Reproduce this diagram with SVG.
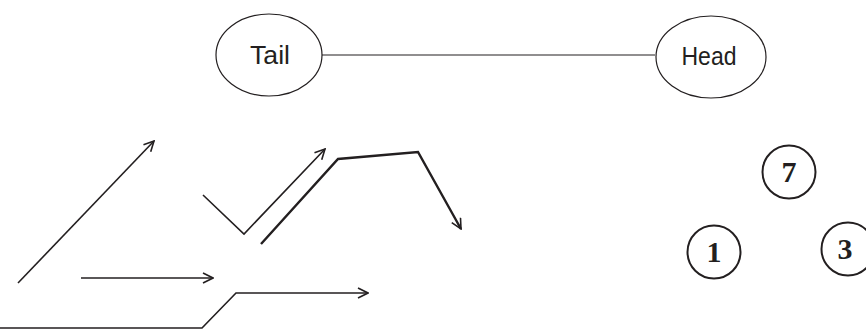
<svg xmlns="http://www.w3.org/2000/svg" width="866" height="329" viewBox="0 0 866 329">
<defs>
<marker id="ah" viewBox="0 0 12 12" refX="11" refY="6" markerWidth="12" markerHeight="12" markerUnits="userSpaceOnUse" orient="auto">
<path d="M1,1 L11,6 L1,11" fill="none" stroke="#231f20" stroke-width="1.6"/>
</marker>
</defs>
<style>
.node{fill:#fff;stroke:#231f20;stroke-width:1.2}
.lbl{font-family:"Liberation Sans",Arial,sans-serif;font-size:26px;fill:#231f20;text-anchor:middle}
.num{font-family:"Liberation Serif","Times New Roman",serif;font-weight:bold;font-size:30px;fill:#231f20;text-anchor:middle}
.circ{fill:#fff;stroke:#231f20;stroke-width:2}
.ln{fill:none;stroke:#231f20;stroke-width:1.6}
.thick{fill:none;stroke:#231f20;stroke-width:2.4}
</style>
<g id="connectors">
<line x1="322" y1="55" x2="655" y2="55" stroke="#231f20" stroke-width="1.2"/>
<line class="ln" x1="18" y1="283" x2="154" y2="141" marker-end="url(#ah)"/>
<line class="ln" x1="81" y1="278" x2="213" y2="278" marker-end="url(#ah)"/>
<polyline class="ln" points="0,328 202,328 236,293 368,293" marker-end="url(#ah)"/>
<polyline class="ln" points="203,195 244,234 325,149" marker-end="url(#ah)"/>
<polyline class="thick" points="261,244 338,159 418,152 461,229" marker-end="url(#ah)"/>
</g>
<g id="tail">
<ellipse class="node" cx="269" cy="55" rx="53" ry="41"/>
<text class="lbl" x="270" y="64" textLength="40" lengthAdjust="spacingAndGlyphs">Tail</text>
</g>
<g id="head">
<ellipse class="node" cx="711" cy="57" rx="55" ry="41"/>
<text class="lbl" x="709" y="65" textLength="55" lengthAdjust="spacingAndGlyphs">Head</text>
</g>
<g id="n7">
<circle class="circ" cx="789" cy="172" r="26.5"/>
<text class="num" x="789" y="182">7</text>
</g>
<g id="n1">
<circle class="circ" cx="714" cy="252" r="26.5"/>
<text class="num" x="714" y="262">1</text>
</g>
<g id="n3">
<circle class="circ" cx="848" cy="249" r="26.5"/>
<text class="num" x="845" y="259">3</text>
</g>
</svg>
